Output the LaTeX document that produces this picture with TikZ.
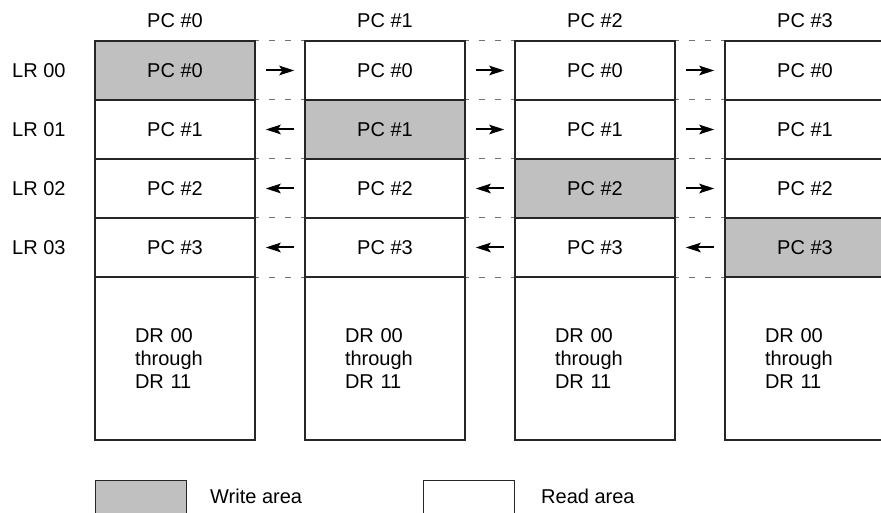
\documentclass[tikz,border=0pt]{standalone}
\usepackage{fontspec}
\setmainfont{Liberation Sans}
\usetikzlibrary{arrows.meta,calc}
\definecolor{wgray}{RGB}{192,192,192}
\tikzset{
  cell/.style={draw=black!85, line width=1.4pt, minimum width=160pt, minimum height=59pt, inner sep=0pt, font=\fontsize{20}{23}\selectfont},
  wcell/.style={cell, fill=wgray},
  drbox/.style={draw=black!85, line width=1.4pt, minimum width=160pt, minimum height=163pt, text width=80pt, inner xsep=40pt, inner ysep=0pt, align=left, font=\fontsize{20}{23}\selectfont},
  lbl/.style={inner sep=0pt, font=\fontsize{20}{23}\selectfont},
  gap/.style={draw=black!55, line width=1.4pt, dash pattern=on 6pt off 10pt, dash phase=3pt},
  arr/.style={line width=2pt, -{Stealth[length=15pt,width=9.5pt,inset=3pt]}},
  legend/.style={draw=black!85, line width=1.4pt, inner sep=0pt, minimum width=91pt, minimum height=52pt}
}
\begin{document}
\begin{tikzpicture}[x=1pt,y=-1pt]
\useasboundingbox (0,0) rectangle (881,513);
\foreach \c/\x in {0/175,1/385,2/595,3/805}{
  \node[lbl] (h\c) at (\x,21) {PC \#\c};
  \foreach \r/\y in {0/70.5,1/129.5,2/188.5,3/247.5}{
    \ifnum\c=\r
      \node[wcell] (c\c r\r) at (\x,\y) {PC \#\r};
    \else
      \node[cell] (c\c r\r) at (\x,\y) {PC \#\r};
    \fi
  }
  \node[drbox] (d\c) at (\x,358.5) {DR 00\\through\\DR 11};
}
\foreach \r/\y in {0/70.5,1/129.5,2/188.5,3/247.5}{
  \node[lbl, anchor=west] (lr\r) at (12,\y) {LR 0\r};
}
\foreach \i/\j in {0/1,1/2,2/3}{
  \foreach \r in {0,1,2,3}{
    \draw[gap] (c\i r\r.north east) -- (c\j r\r.north west);
    \ifnum\i<\r
      \draw[arr] ($(c\j r\r.west)+(-10,0)$) -- ($(c\i r\r.east)+(10,0)$);
    \else
      \draw[arr] ($(c\i r\r.east)+(10,0)$) -- ($(c\j r\r.west)+(-10,0)$);
    \fi
  }
  \draw[gap] (c\i r3.south east) -- (c\j r3.south west);
}
\node[legend, fill=wgray, anchor=north west] (lw) at (94.5,479.5) {};
\node[lbl, anchor=west] (lwt) at (210,496) {Write area};
\node[legend, anchor=north west] (lrd) at (422.5,479.5) {};
\node[lbl, anchor=west] (lrt) at (541,496) {Read area};
\end{tikzpicture}
\end{document}
